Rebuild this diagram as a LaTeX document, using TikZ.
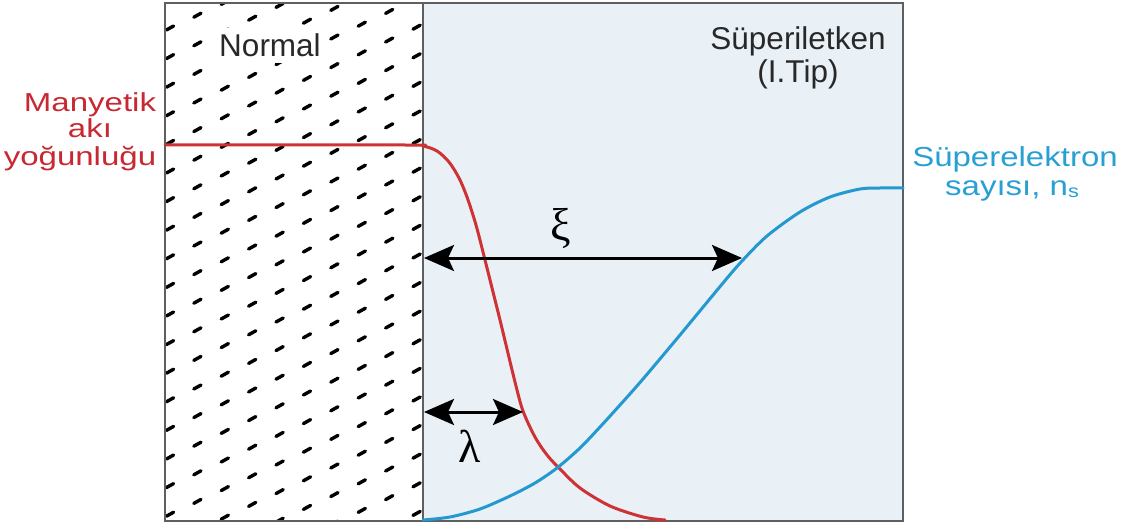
\documentclass[tikz,border=0pt]{standalone}
\usepackage{fontspec}
\setmainfont{Liberation Sans}
\newfontfamily\widered{Liberation Sans}[FakeStretch=1.27]
\newfontfamily\wideblue{Liberation Sans}[FakeStretch=1.2]
\newfontfamily\grk{Liberation Serif}
\usetikzlibrary{arrows.meta}
\definecolor{redc}{RGB}{206,50,52}
\definecolor{redt}{RGB}{200,40,50}
\definecolor{bluec}{RGB}{36,152,208}
\definecolor{bluet}{RGB}{40,160,212}
\definecolor{bgc}{RGB}{233,241,246}
\definecolor{txt}{RGB}{40,40,40}
\definecolor{framec}{RGB}{95,95,95}
\tikzset{
  lbl/.style={font=\fontsize{31.5}{33}\selectfont, text=txt, inner sep=0pt, anchor=base},
  redlbl/.style={font=\widered\fontsize{26}{26}\selectfont, text=redt, inner sep=0pt, anchor=base},
  bluelbl/.style={font=\wideblue\fontsize{27.5}{27.5}\selectfont, text=bluet, inner sep=0pt, anchor=base},
  greeklbl/.style={font=\grk\fontsize{46}{46}\selectfont, text=black, inner sep=0pt},
  dashst/.style={line width=3.4pt, line cap=round, black},
  curve/.style={line width=3pt, line cap=round, line join=round},
  dbl/.style={line width=3pt, arrows={Stealth[length=30pt,width=26pt,inset=6pt]-Stealth[length=30pt,width=26pt,inset=6pt]}},
  framest/.style={draw=framec, line width=1.5pt}
}
\begin{document}
\begin{tikzpicture}[x=1pt,y=-1pt]
\useasboundingbox (0,0) rectangle (1122,524);
\fill[white] (0,0) rectangle (1122,524);
% regions
\fill[bgc] (423,3) rectangle (903,521);
\begin{scope}
  \clip (165,3) rectangle (423,521);
  \foreach \i in {0,...,9}{
    \foreach \j in {-5,...,21}{
      \pgfmathsetmacro\xx{170+27.4*\i}
      \pgfmathsetmacro\yy{28-12.8*\i+28.6*\j}
      \draw[dashst] (\xx-3.6,\yy+2) -- (\xx+3.6,\yy-2);
    }
  }
\end{scope}
\node[lbl, fill=white, inner xsep=8pt, inner ysep=6pt] (normal) at (270,57) {Normal};
\draw[framest] (165,3) rectangle (903,521);
\draw[framest] (423,3) -- (423,521);
% curves
\draw[curve, redc] plot[smooth, tension=0.5] coordinates {(165,145) (405,145) (423,146) (437,151) (449,162) (459,178) (467,197) (476,225) (485,260) (500,320) (515,382) (523,411) (535,437) (547,455) (560,469) (580,488) (610,506) (643,517) (665,520)};
\draw[curve, bluec] plot[smooth, tension=0.5] coordinates {(423,520) (450,517) (480,509) (510,496) (535,483) (557,468) (580,448) (600,427) (620,405) (643,379) (680,335) (723,283) (742,261) (767,236) (800,212) (830,197) (860,189) (880,188) (903,188)};
% arrows
\coordinate (xiL) at (424,258);
\coordinate (xiR) at (742,258);
\draw[dbl] (xiL) -- (xiR);
\coordinate (laL) at (424,412);
\coordinate (laR) at (523,412);
\draw[dbl] (laL) -- (laR);
\node[greeklbl] (xi) at (561,228) {ξ};
\node[greeklbl] (la) at (470,446) {λ};
% labels
\node[lbl] (sup1) at (798,50) {Süperiletken};
\node[lbl] (sup2) at (798,83) {(I.Tip)};
\node[redlbl] (m1) at (90,112) {Manyetik};
\node[redlbl] (m2) at (90,138) {akı};
\node[redlbl] (m3) at (80,166) {yoğunluğu};
\node[bluelbl] (s1) at (1015,167) {Süperelektron};
\node[bluelbl] (s2) at (1012,195) {sayısı, n\raisebox{-2pt}{\fontsize{18}{18}\selectfont s}};
\end{tikzpicture}
\end{document}
